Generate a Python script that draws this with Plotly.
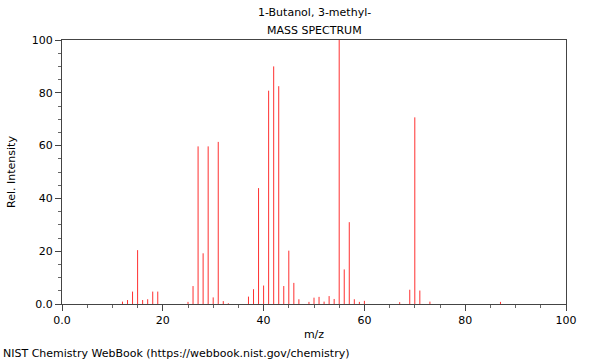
import plotly.graph_objects as go

mz = [12, 13, 14, 15, 16, 17, 18, 19, 25, 26, 27, 28, 29, 30, 31, 32, 33,
      37, 38, 39, 40, 41, 42, 43, 44, 45, 46, 47, 49, 50, 51, 52, 53, 54,
      55, 56, 57, 58, 59, 60, 67, 69, 70, 71, 73, 87]
intensity = [0.9, 1.5, 4.7, 20.4, 1.5, 1.8, 4.7, 4.7, 0.8, 6.8, 59.7, 19.2, 59.7, 2.5, 61.4, 1.1, 0.3,
             2.8, 5.6, 43.9, 7.0, 80.8, 90.0, 82.5, 6.8, 20.2, 8.0, 1.8, 0.8, 2.4, 2.7, 0.9, 3.0, 1.9,
             100.0, 13.1, 31.0, 1.8, 0.8, 1.2, 0.7, 5.4, 70.7, 5.1, 0.9, 0.8]

tick_vals = [0, 20, 40, 60, 80, 100]
tick_text = ["0.0", "20", "40", "60", "80", "100"]

title_line1 = "1-Butanol, 3-methyl-"
title_line2 = "MASS SPECTRUM"
footer = "NIST Chemistry WebBook (https://webbook.nist.gov/chemistry)"

xs, ys = [], []
for m, v in zip(mz, intensity):
    xs += [m, m, None]
    ys += [0, v, None]

fig = go.Figure()
fig.add_trace(go.Scatter(x=xs, y=ys, mode="lines",
                         line=dict(color="#ff3030", width=1),
                         hoverinfo="skip", showlegend=False))

font = dict(family="DejaVu Sans", size=11, color="#000000")
axis_common = dict(
    showgrid=False, zeroline=False, showline=True, linecolor="#444444",
    linewidth=1, mirror=True, ticks="outside", ticklen=6, tickcolor="#444444",
    tickvals=tick_vals, ticktext=tick_text, tickfont=font, automargin=False,
    minor=dict(dtick=5, tick0=0, ticks="outside", ticklen=3, tickcolor="#666666"),
)
plot_w = 600 - 62 - 34
plot_h = 360 - 40 - 56
fig.update_layout(
    width=600, height=360,
    margin=dict(l=62, r=34, t=40, b=56),
    paper_bgcolor="white", plot_bgcolor="white",
    font=font, hovermode=False,
    xaxis=dict(range=[0, 100], title=dict(text="m/z", font=font, standoff=4), **axis_common),
    yaxis=dict(range=[0, 100], title=dict(text="Rel. Intensity", font=font, standoff=13), **axis_common),
    annotations=[
        dict(text=title_line1, x=0.5, y=1, xref="paper", yref="paper", yshift=19,
             showarrow=False, xanchor="center", yanchor="bottom", font=font),
        dict(text=title_line2, x=0.5, y=1, xref="paper", yref="paper", yshift=1,
             showarrow=False, xanchor="center", yanchor="bottom", font=font),
        dict(text=footer, x=(1 - 62) / plot_w, y=(304 - 353) / plot_h, xref="paper", yref="paper",
             showarrow=False, xanchor="left", yanchor="middle", font=font),
    ],
)

fig.write_html("out.html", config={"displayModeBar": False, "staticPlot": True},
               post_script="document.body.style.margin='0';")
